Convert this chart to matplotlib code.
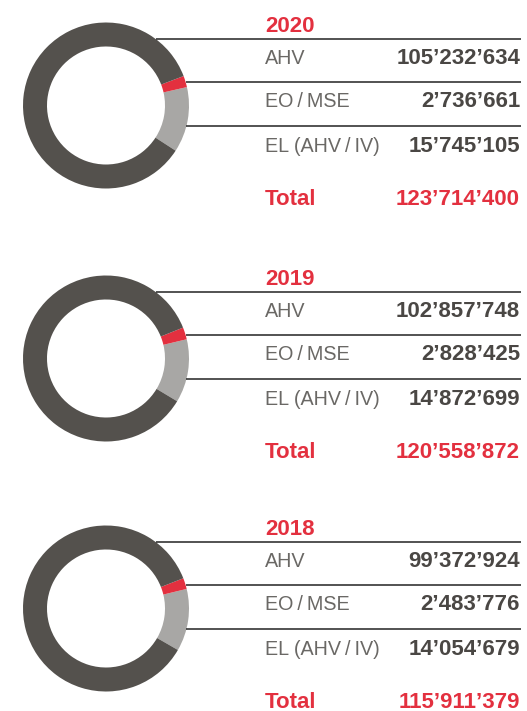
import matplotlib
matplotlib.use("Agg")
import matplotlib.pyplot as plt
import numpy as np

years = ["2020", "2019", "2018"]
categories = ["AHV", "EO\u2009/\u2009MSE", "EL (AHV\u2009/\u2009IV)"]
ahv = [105232634, 102857748, 99372924]
eo_mse = [2736661, 2828425, 2483776]
el = [15745105, 14872699, 14054679]
totals = [123714400, 120558872, 115911379]

# layout (pixel units, top-left origin)
W, H = 527, 711
offsets = [0, 253, 503]
start_angles = [-33, -31, -30]
cx, cy, R, ring = 106, 105.5, 83, 24
line_y = [39, 82, 126]
label_y = [64, 107, 152]
year_y, total_y = 32, 205
x_label, x_right = 265, 521

dark = "#54514d"
red = "#e3303f"
grey = "#a8a7a5"

plt.rcParams["font.family"] = ["Liberation Sans", "DejaVu Sans"]

def fmt(v):
    return f"{v:,}".replace(",", "\u2019")

fig = plt.figure(figsize=(W / 100, H / 100), dpi=100)
ax = fig.add_axes([0, 0, 1, 1])

for i, yr in enumerate(years):
    off = offsets[i]
    c_y = H - (cy + off)
    # ring: EL, EO/MSE, AHV going counter-clockwise
    ax.pie([el[i], eo_mse[i], ahv[i]], colors=[grey, red, dark],
           center=(cx, c_y), radius=R, startangle=start_angles[i],
           counterclock=True, frame=True,
           wedgeprops=dict(width=ring, linewidth=0))

    ax.text(x_label, H - (year_y + off), yr, color=red, fontsize=16,
            fontweight="bold", va="baseline", ha="left")
    vals = [ahv[i], eo_mse[i], el[i]]
    for k in range(3):
        ly = line_y[k] + off
        dy = cy + off - ly
        x0 = cx + np.sqrt(R ** 2 - dy ** 2)
        ax.plot([x0, x_right], [H - ly, H - ly], color="#232323", lw=1.1,
                solid_capstyle="butt")
        ax.text(x_label, H - (label_y[k] + off), categories[k],
                color="#6a6865", fontsize=14.2, va="baseline", ha="left")
        ax.text(x_right - 1, H - (label_y[k] + off), fmt(vals[k]),
                color="#4a4744", fontsize=16, fontweight="bold",
                va="baseline", ha="right")
    ax.text(x_label, H - (total_y + off), "Total", color=red, fontsize=16,
            fontweight="bold", va="baseline", ha="left")
    ax.text(x_right - 1, H - (total_y + off), fmt(totals[i]), color=red,
            fontsize=16, fontweight="bold", va="baseline", ha="right")

ax.set_xlim(0, W)
ax.set_ylim(0, H)
ax.set_aspect("equal")
ax.axis("off")

fig.savefig("out.png", dpi=100)
